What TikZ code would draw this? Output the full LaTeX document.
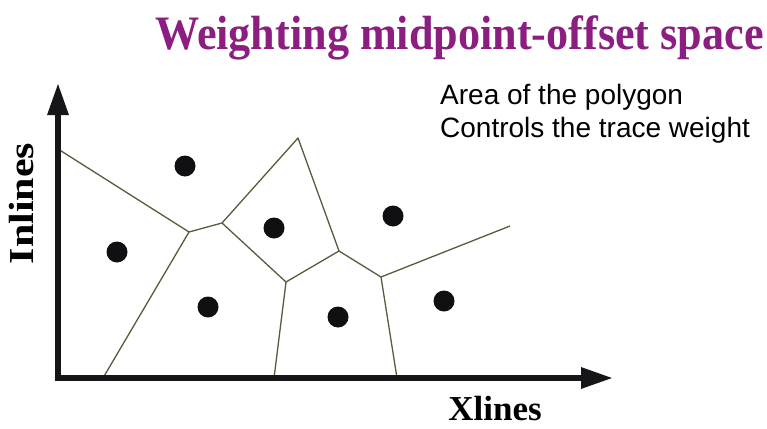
\documentclass[tikz,border=0pt]{standalone}
\usepackage{fontspec}
\setmainfont{Liberation Serif}
\newfontfamily\notefont{Liberation Sans}
\usepackage{tikz}
\usetikzlibrary{arrows.meta, positioning}
\definecolor{vpurple}{RGB}{139,30,128}
\definecolor{vaxis}{HTML}{161618}
\definecolor{vedge}{HTML}{5C5A3C}
\definecolor{vdot}{HTML}{101012}
\tikzset{
  axis/.style={draw=vaxis, line width=6pt, -{Triangle[length=32pt, width=20pt]}},
  cell/.style={draw=vedge, line width=1.3pt, line join=round},
  trace/.style={circle, fill=vdot, inner sep=0pt, minimum size=21pt},
  heading/.style={text=vpurple, font=\bfseries\fontsize{48}{52}\selectfont, inner sep=0pt, xscale=0.92},
  axlabel/.style={text=black, font=\bfseries\fontsize{35}{40}\selectfont, inner sep=0pt},
  note/.style={text=black, font=\notefont\fontsize{28}{33}\selectfont, align=left, inner sep=0pt}
}
\begin{document}
\begin{tikzpicture}[x=1pt, y=-1pt]
  \useasboundingbox[fill=white] (0,0) rectangle (767,428);
  % cell corners
  \coordinate (v1) at (58,149);
  \coordinate (v2) at (189,232);
  \coordinate (v3) at (222,223);
  \coordinate (v4) at (298,138);
  \coordinate (v5) at (339,251);
  \coordinate (v6) at (286,282);
  \coordinate (v7) at (381,277);
  \coordinate (v8) at (510,226);
  \coordinate (b1) at (103,378);
  \coordinate (b2) at (274,378);
  \coordinate (b3) at (397,378);
  \draw[cell] (v1) -- (v2) -- (v3) -- (v4) -- (v5) -- (v7) -- (v8);
  \draw[cell] (v3) -- (v6) -- (v5);
  \draw[cell] (v2) -- (b1);
  \draw[cell] (v6) -- (b2);
  \draw[cell] (v7) -- (b3);
  % traces
  \node[trace] (t1) at (185,166) {};
  \node[trace] (t2) at (117,252) {};
  \node[trace] (t3) at (274,228) {};
  \node[trace] (t4) at (208,307) {};
  \node[trace] (t5) at (393,216) {};
  \node[trace] (t6) at (338,317) {};
  \node[trace] (t7) at (444,301) {};
  % axes
  \coordinate (o) at (58,378);
  \coordinate (ytip) at (58,83);
  \coordinate (xtip) at (613,378);
  \draw[axis] (o) -- (ytip);
  \draw[axis] ([xshift=-3pt]o) -- (xtip);
  \node[axlabel, rotate=90, xscale=1.2, anchor=base] (inl) at (33,203.5) {Inlines};
  \node[axlabel, anchor=base] (xl) at (495,420) {Xlines};
  \node[heading, anchor=base] (title) at (459.5,49) {Weighting midpoint-offset space};
  \node[note, anchor=north west] (area) at (440,84.5) {Area of the polygon\\Controls the trace weight};
\end{tikzpicture}
\end{document}
